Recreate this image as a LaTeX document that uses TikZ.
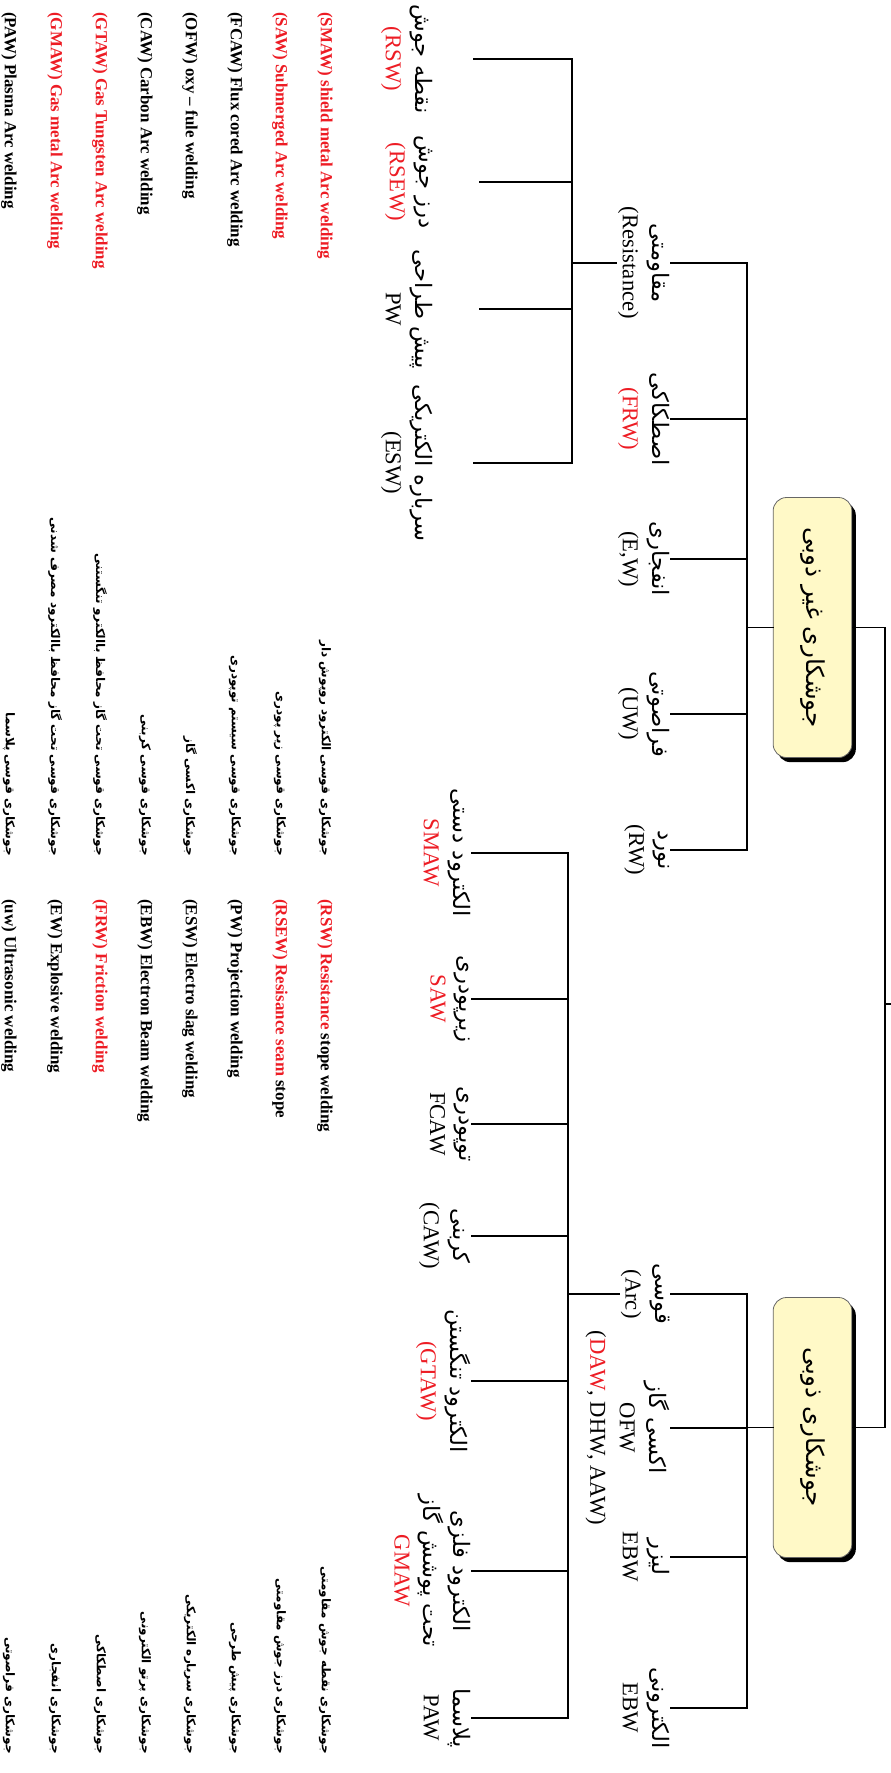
\documentclass[tikz,border=0pt]{standalone}
\usepackage{fontspec}
\setmainfont{Liberation Serif}
\newfontfamily\fa[Script=Arabic]{DejaVu Sans}
\TeXXeTstate=1
\usetikzlibrary{shadows}

\definecolor{wred}{RGB}{237,28,36}
\definecolor{boxyellow}{RGB}{255,249,199}

\newcommand{\fat}[1]{{\fa\fontsize{17}{22}\selectfont\beginR #1\endR}}
\newcommand{\fabig}[1]{{\fa\fontsize{18.5}{22}\selectfont\beginR #1\endR}}
\newcommand{\rd}[1]{\textcolor{wred}{#1}}

\tikzset{
  wire/.style={line width=1.1pt, line cap=rect},
  lbl/.style={rotate=-90, anchor=north, align=center, inner sep=1pt,
    font=\fontsize{17}{22}\selectfont},
  mainbox/.style={draw=black!60, line width=0.6pt, fill=boxyellow,
    rounded corners=10pt, minimum width=59pt, minimum height=195pt,
    inner sep=0pt,
    drop shadow={shadow xshift=3pt, shadow yshift=-3.5pt, fill=black, opacity=1}},
  eleg/.style={rotate=-90, anchor=west, inner sep=0pt,
    font=\bfseries\fontsize{12.7}{14}\selectfont},
  fleg/.style={rotate=-90, anchor=east, inner sep=0pt,
    font=\fa\bfseries\fontsize{9}{12}\selectfont}
}

\begin{document}
\begin{tikzpicture}[x=0.75pt,y=-0.75pt]
\useasboundingbox (0,0) rectangle (891,1773);

% two main groups
\node[mainbox] (nonfus) at (812.5,627.5) {\rotatebox{-90}{\fabig{جوشکاری غیر ذوبی}}};
\node[mainbox] (fus) at (812.5,1427.5) {\rotatebox{-90}{\fabig{جوشکاری ذوبی}}};

\coordinate (root) at (885,1004);
\coordinate (rootend) at (891,1004);
\coordinate (nfbar) at (747,0);
\coordinate (fubar) at (747,0);
\coordinate (resbar) at (572,0);
\coordinate (arcbar) at (568,0);

% non fusion
\node[lbl] (res) at (671,263) {\fat{مقاومتی}\\(Resistance)};
\node[lbl] (frw) at (671,419) {\fat{اصطکاکی}\\\rd{(FRW)}};
\node[lbl] (ew) at (671,559) {\fat{انفجاری}\\(E,W)};
\node[lbl] (uw) at (671,714) {\fat{فراصوتی}\\(UW)};
\node[lbl] (rw) at (671,850) {\fat{نورد}\\(RW)};

% resistance
\node[lbl] (rsw) at (434,59) {\fat{نقطه جوش}\\\rd{(RSW)}};
\node[lbl] (rsew) at (434,182) {\fat{درز جوش}\\\rd{(RSEW)}};
\node[lbl] (pw) at (434,309) {\fat{پیش طراحی}\\PW};
\node[lbl] (esw) at (434,463) {\fat{سرباره الکتریکی}\\(ESW)};

% fusion
\node[lbl] (arc) at (671,1294) {\fat{قوسی}\\(Arc)};
\node[lbl] (ofw) at (671,1428) {\fat{اکسی گاز}\\OFW\\(\rd{DAW}, DHW, AAW)};
\node[lbl] (lbw) at (671,1557) {\fat{لیزر}\\EBW};
\node[lbl] (ebw) at (671,1708) {\fat{الکترونی}\\EBW};

% arc
\node[lbl] (smaw) at (472,853) {\fat{الکترود دستی}\\\rd{SMAW}};
\node[lbl] (saw) at (472,999) {\fat{زیرپودری}\\\rd{SAW}};
\node[lbl] (fcaw) at (472,1124) {\fat{توپودری}\\FCAW};
\node[lbl] (caw) at (472,1236) {\fat{کربنی}\\(CAW)};
\node[lbl] (gtaw) at (472,1381) {\fat{الکترود تنگستن}\\\rd{(GTAW)}};
\node[lbl] (gmaw) at (472,1571) {\fat{الکترود فلزی}\\\fat{تحت پوشش گاز}\\\rd{GMAW}};
\node[lbl] (paw) at (472,1718) {\fat{پلاسما}\\PAW};

% connectors
\draw[wire] (nonfus.east) -- (nonfus.east -| root) -- (fus.east -| root) -- (fus.east);
\draw[wire] (root) -- (rootend);
\draw[wire] (nonfus.west) -- (nonfus.west -| nfbar);
\draw[wire] (fus.west) -- (fus.west -| fubar);
\draw[wire] (res.north -| nfbar) -- (rw.north -| nfbar);
\draw[wire] (arc.north -| fubar) -- (ebw.north -| fubar);
\draw[wire] (res.north) -- (res.north -| nfbar);
\draw[wire] (frw.north) -- (frw.north -| nfbar);
\draw[wire] (ew.north) -- (ew.north -| nfbar);
\draw[wire] (uw.north) -- (uw.north -| nfbar);
\draw[wire] (rw.north) -- (rw.north -| nfbar);
\draw[wire] (arc.north) -- (arc.north -| fubar);
\draw[wire] (ofw.north) -- (ofw.north -| fubar);
\draw[wire] (lbw.north) -- (lbw.north -| fubar);
\draw[wire] (ebw.north) -- (ebw.north -| fubar);

\draw[wire] (res.south) -- (res.south -| resbar);
\draw[wire] (rsw.north -| resbar) -- (esw.north -| resbar);
\draw[wire, shorten <=30pt] (rsw.north) -- (rsw.north -| resbar);
\draw[wire, shorten <=34pt] (rsew.north) -- (rsew.north -| resbar);
\draw[wire, shorten <=34pt] (pw.north) -- (pw.north -| resbar);
\draw[wire, shorten <=30pt] (esw.north) -- (esw.north -| resbar);

\draw[wire] (arc.south) -- (arc.south -| arcbar);
\draw[wire] (smaw.north -| arcbar) -- (paw.north -| arcbar);
\draw[wire] (smaw.north) -- (smaw.north -| arcbar);
\draw[wire] (saw.north) -- (saw.north -| arcbar);
\draw[wire] (fcaw.north) -- (fcaw.north -| arcbar);
\draw[wire] (caw.north) -- (caw.north -| arcbar);
\draw[wire] (gtaw.north) -- (gtaw.north -| arcbar);
\draw[wire] (gmaw.north) -- (gmaw.north -| arcbar);
\draw[wire] (paw.north) -- (paw.north -| arcbar);

% legend, english
\node[eleg] (ea1) at (325,12) {\rd{(SMAW) shield metal Arc welding}};
\node[eleg] (ea2) at (280,12) {\rd{(SAW) Submerged Arc welding}};
\node[eleg] (ea3) at (235,12) {(FCAW) Flux cored Arc welding};
\node[eleg] (ea4) at (190,12) {(OFW) oxy – fule welding};
\node[eleg] (ea5) at (145,12) {(CAW) Carbon Arc welding};
\node[eleg] (ea6) at (100,12) {\rd{(GTAW) Gas Tungsten Arc welding}};
\node[eleg] (ea7) at (55,12) {\rd{(GMAW) Gas metal Arc welding}};
\node[eleg] (ea8) at (9,12) {(PAW) Plasma Arc welding};

\node[eleg] (eb1) at (325,899) {\rd{(RSW) Resistance} stope welding};
\node[eleg] (eb2) at (280,899) {\rd{(RSEW) Resisance seam} stope};
\node[eleg] (eb3) at (235,899) {(PW) Projection welding};
\node[eleg] (eb4) at (190,899) {(ESW) Electro slag welding};
\node[eleg] (eb5) at (145,899) {(EBW) Electron Beam welding};
\node[eleg] (eb6) at (100,899) {\rd{(FRW) Friction welding}};
\node[eleg] (eb7) at (55,899) {(EW) Explosive welding};
\node[eleg] (eb8) at (9,899) {(uw) Ultrasonic welding};

% legend, persian
\node[fleg] (fa1) at (325,856) {\beginR جوشکاری قوسی الکترود روپوش دار\endR};
\node[fleg] (fa2) at (280,856) {\beginR جوشکاری قوسی زیر پودری\endR};
\node[fleg] (fa3) at (235,856) {\beginR جوشکاری قوسی سیستم توپودری\endR};
\node[fleg] (fa4) at (190,856) {\beginR جوشکاری اکسی گاز\endR};
\node[fleg] (fa5) at (145,856) {\beginR جوشکاری قوسی کربنی\endR};
\node[fleg] (fa6) at (100,856) {\beginR جوشکاری قوسی تحت گاز محافظ باالکترو تنگستنی\endR};
\node[fleg] (fa7) at (55,856) {\beginR جوشکاری قوسی تحت گاز محافظ باالکترود مصرف شدنی\endR};
\node[fleg] (fa8) at (9,856) {\beginR جوشکاری قوسی پلاسما\endR};

\node[fleg] (fb1) at (325,1754) {\beginR جوشکاری نقطه جوش مقاومتی\endR};
\node[fleg] (fb2) at (280,1754) {\beginR جوشکاری درز جوش مقاومتی\endR};
\node[fleg] (fb3) at (235,1754) {\beginR جوشکاری پیش طرحی\endR};
\node[fleg] (fb4) at (190,1754) {\beginR جوشکاری سرباره الکتریکی\endR};
\node[fleg] (fb5) at (145,1754) {\beginR جوشکاری پرتو الکترونی\endR};
\node[fleg] (fb6) at (100,1754) {\beginR جوشکاری اصطکاکی\endR};
\node[fleg] (fb7) at (55,1754) {\beginR جوشکاری انفجاری\endR};
\node[fleg] (fb8) at (9,1754) {\beginR جوشکاری فراصوتی\endR};
\end{tikzpicture}
\end{document}
